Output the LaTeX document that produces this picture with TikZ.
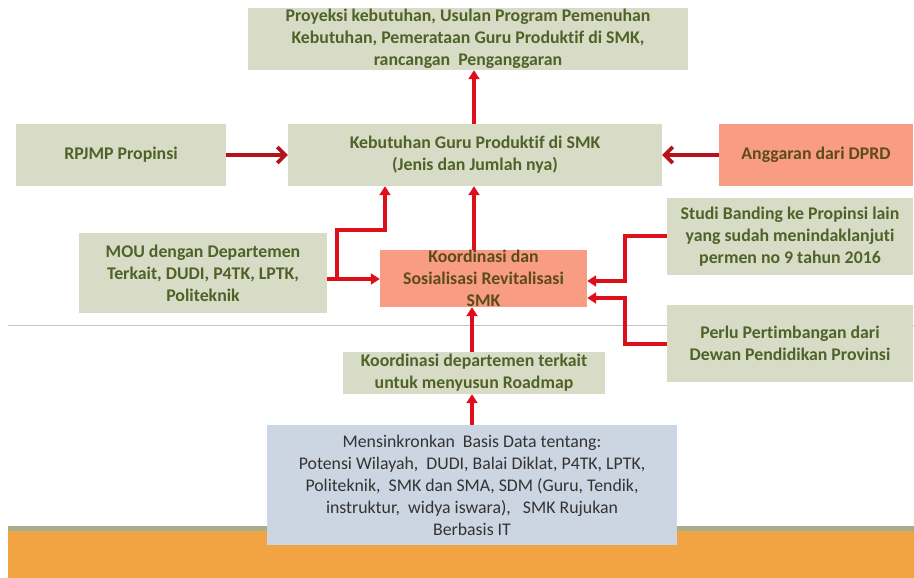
\documentclass[tikz,border=0pt]{standalone}
\usepackage{fontspec}
\setmainfont{Carlito}[Ligatures=NoCommon]
\usetikzlibrary{arrows.meta,calc}
\definecolor{boxgreen}{HTML}{D8DCC6}
\definecolor{boxsalmon}{HTML}{F89C84}
\definecolor{boxblue}{HTML}{CCD5E2}
\definecolor{txtgreen}{HTML}{4F6228}
\definecolor{txtbrown}{HTML}{5E4B1C}
\definecolor{txtgrey}{HTML}{333333}
\definecolor{arrred}{HTML}{DD0F1B}
\definecolor{arrdark}{HTML}{B5121B}
\definecolor{bandorange}{HTML}{F2A444}
\definecolor{bandgreen}{HTML}{A3AE8C}
\definecolor{rulegrey}{HTML}{C4C4C4}
\tikzset{
  gbox/.style={rectangle, fill=boxgreen, inner sep=0pt, align=center,
    text=txtgreen, font=\fontsize{17.8}{22}\selectfont\bfseries},
  sbox/.style={gbox, fill=boxsalmon, text=txtbrown},
  bbox/.style={rectangle, fill=boxblue, inner sep=0pt, align=center,
    text=txtgrey, font=\fontsize{17.8}{22}\selectfont},
  conn/.style={draw=arrred, line width=3.2pt,
    -{Triangle[length=9pt,width=11pt]}},
  conndark/.style={draw=arrdark, line width=3.6pt,
    -{Straight Barb[length=8pt,width=16pt,line width=3.6pt]}},
}
\begin{document}
\begin{tikzpicture}[x=1pt,y=-1pt]
\useasboundingbox (0,0) rectangle (914,578);
% background bands
\fill[bandgreen] (8,526) rectangle (914,531);
\fill[bandorange] (8,531) rectangle (914,578);
\draw[rulegrey, line width=1pt] (8,325) -- (914,325);
% nodes
\node[gbox, minimum width=440, minimum height=62] (top) at (468,39)
  {Proyeksi kebutuhan, Usulan Program Pemenuhan\\Kebutuhan, Pemerataan Guru Produktif di SMK,\\rancangan \ Penganggaran};
\node[gbox, minimum width=210, minimum height=62] (rpj) at (121,155) {RPJMP Propinsi};
\node[gbox, minimum width=374, minimum height=62] (keb) at (475,155)
  {Kebutuhan Guru Produktif di SMK\\(Jenis dan Jumlah nya)};
\node[sbox, minimum width=194, minimum height=62] (ang) at (816,155) {Anggaran dari DPRD};
\node[gbox, minimum width=248, minimum height=80] (mou) at (203,273)
  {MOU dengan Departemen\\Terkait, DUDI, P4TK, LPTK,\\Politeknik};
\node[sbox, minimum width=207, minimum height=57] (koor) at (483.5,278.5)
  {Koordinasi dan\\Sosialisasi Revitalisasi\\SMK};
\node[gbox, minimum width=246, minimum height=77] (stu) at (790,236.5)
  {Studi Banding ke Propinsi lain\\yang sudah menindaklanjuti\\permen no 9 tahun 2016};
\node[gbox, minimum width=246, minimum height=77] (per) at (790,343.5)
  {Perlu Pertimbangan dari\\Dewan Pendidikan Provinsi};
\node[gbox, minimum width=262, minimum height=42] (kdep) at (474,373)
  {Koordinasi departemen terkait\\untuk menyusun Roadmap};
\node[bbox, minimum width=410, minimum height=120] (bot) at (472,485)
  {Mensinkronkan \ Basis Data tentang:\\Potensi Wilayah, \ DUDI, Balai Diklat, P4TK, LPTK,\\Politeknik, \ SMK dan SMA, SDM (Guru, Tendik,\\instruktur, \ widya iswara), \ \ SMK Rujukan\\Berbasis IT};
% coordinates
\coordinate (kx) at (474,0);
\coordinate (j) at (337,279);
\coordinate (k) at (385,230);
\coordinate (s1) at (625,236);
\coordinate (s2) at (625,281);
\coordinate (p1) at (625,344);
\coordinate (p2) at (625,298);
\coordinate (dx) at (472,0);
% connectors
\draw[conndark] (rpj.east) -- (keb.west);
\draw[conndark] (ang.west) -- (keb.east);
\draw[conn] (kx |- keb.north) -- (kx |- top.south);
\draw[conn] (kx |- koor.north) -- (kx |- keb.south);
\draw[conn] (mou.east |- j) -- (koor.west |- j);
\draw[conn] (j) |- (k) -- (k |- keb.south);
\draw[conn] (stu.west |- s1) -- (s1) -- (s2) -- (koor.east |- s2);
\draw[conn] (per.west |- p1) -- (p1) -- (p2) -- (koor.east |- p2);
\draw[conn] (dx |- kdep.north) -- (dx |- koor.south);
\draw[conn] (dx |- bot.north) -- (dx |- kdep.south);
\end{tikzpicture}
\end{document}
